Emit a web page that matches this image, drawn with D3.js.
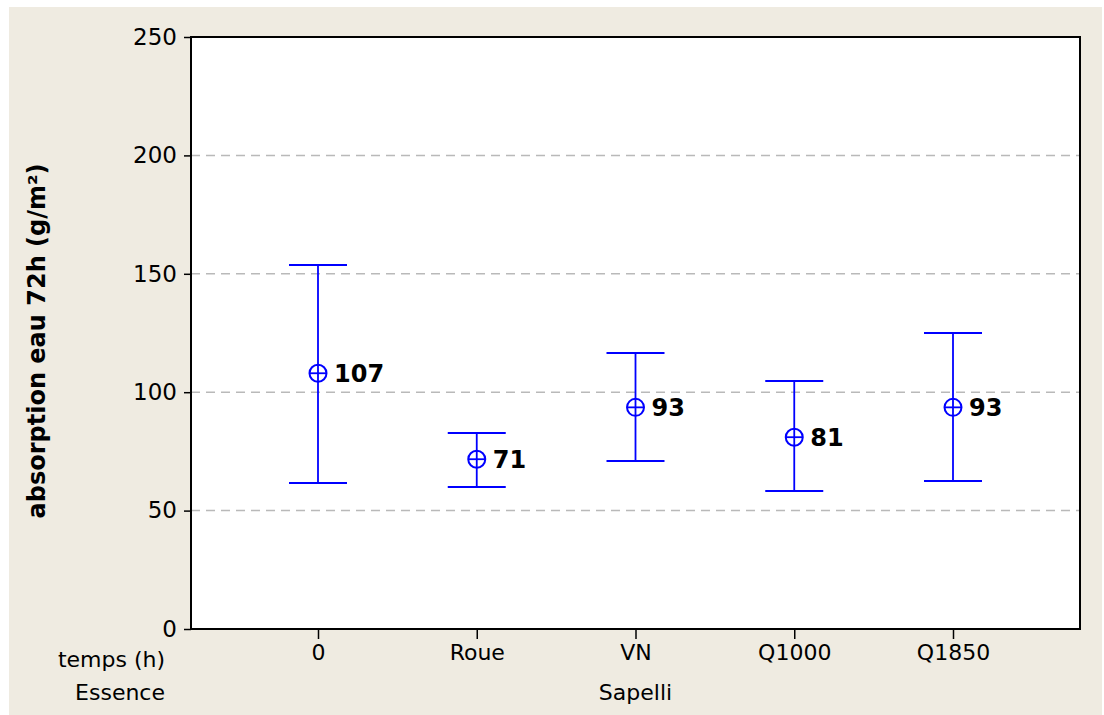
<!DOCTYPE html>
<html>
<head>
<meta charset="utf-8">
<script src="https://cdn.jsdelivr.net/npm/d3@7"></script>
<style>
  body { margin: 0; background: #fff; }
  text { font-family: "DejaVu Sans", Verdana, sans-serif; }
</style>
</head>
<body>
<script>
// data
let categories = ["0", "Roue", "VN", "Q1000", "Q1850"];
let means      = [108, 71.7, 93.6, 81, 93.6];
let meanLabels = ["107", "71", "93", "81", "93"];
let upper      = [153.7, 82.8, 116.6, 104.7, 125];
let lower      = [61.7, 60, 70.9, 58.3, 62.5];
let yTicks     = [0, 50, 100, 150, 200, 250];
let gridValues = [50, 100, 150, 200];

let W = 1104, H = 715;
let plotLeft = 191, plotRight = 1080, plotTop = 37, plotBottom = 629;

let svg = d3.select("body").append("svg")
            .attr("width", W)
            .attr("height", H);

// beige page
svg.append("rect")
   .attr("x", 9).attr("y", 7)
   .attr("width", 1093).attr("height", H - 7)
   .style("fill", "#efebe1");

let x = d3.scalePoint().domain(categories).range([plotLeft, plotRight]).padding(0.8);
let y = d3.scaleLinear().domain([0, 250]).range([plotBottom, plotTop]);

svg.append("rect")
   .attr("x", plotLeft).attr("y", plotTop)
   .attr("width", plotRight - plotLeft).attr("height", plotBottom - plotTop)
   .style("fill", "white");

// grid
svg.selectAll(".grid")
   .data(gridValues)
   .enter()
   .append("line")
   .attr("x1", plotLeft).attr("x2", plotRight)
   .attr("y1", d => y(d)).attr("y2", d => y(d))
   .style("stroke", "#b9b9b9")
   .style("stroke-width", 1.5)
   .style("stroke-dasharray", "9,6");

// y axis
let yAxis = svg.append("g")
               .attr("transform", `translate(${plotLeft},0)`)
               .call(d3.axisLeft(y).tickValues(yTicks).tickSize(7).tickPadding(7));
yAxis.select(".domain").remove();
yAxis.selectAll("line").style("stroke", "black").style("stroke-width", 1.5);
yAxis.selectAll("text").style("font-size", "23px").style("font-family", "DejaVu Sans").attr("fill", "black");

// x axis
let xAxis = svg.append("g")
               .attr("transform", `translate(0,${plotBottom})`)
               .call(d3.axisBottom(x).tickSize(10).tickPadding(5));
xAxis.select(".domain").remove();
xAxis.selectAll("line").style("stroke", "black").style("stroke-width", 1.5);
xAxis.selectAll("text").style("font-size", "22px").style("font-family", "DejaVu Sans").attr("fill", "black");

// frame
svg.append("rect")
   .attr("x", plotLeft).attr("y", plotTop)
   .attr("width", plotRight - plotLeft).attr("height", plotBottom - plotTop)
   .style("fill", "none")
   .style("stroke", "black")
   .style("stroke-width", 2);

svg.append("text").attr("x", 165).attr("y", 667).attr("text-anchor", "end")
   .style("font-size", "22px").text("temps (h)");
svg.append("text").attr("x", 165).attr("y", 700).attr("text-anchor", "end")
   .style("font-size", "22px").text("Essence");
svg.append("text").attr("x", (plotLeft + plotRight) / 2).attr("y", 700).attr("text-anchor", "middle")
   .style("font-size", "22px").text("Sapelli");

svg.append("text")
   .attr("transform", "translate(45,341) rotate(-90)")
   .attr("text-anchor", "middle")
   .style("font-size", "24px")
   .style("font-weight", "bold")
   .text("absorption eau 72h (g/m²)");

// error bars
let blue = "#0000ff";
let groups = svg.selectAll(".bar")
                .data(categories)
                .enter()
                .append("g");

groups.append("line")
      .attr("x1", d => x(d)).attr("x2", d => x(d))
      .attr("y1", (d, i) => y(upper[i])).attr("y2", (d, i) => y(lower[i]))
      .style("stroke", blue).style("stroke-width", 1.8);
groups.append("line")
      .attr("x1", d => x(d) - 29).attr("x2", d => x(d) + 29)
      .attr("y1", (d, i) => y(upper[i])).attr("y2", (d, i) => y(upper[i]))
      .style("stroke", blue).style("stroke-width", 2);
groups.append("line")
      .attr("x1", d => x(d) - 29).attr("x2", d => x(d) + 29)
      .attr("y1", (d, i) => y(lower[i])).attr("y2", (d, i) => y(lower[i]))
      .style("stroke", blue).style("stroke-width", 2);
groups.append("circle")
      .attr("cx", d => x(d)).attr("cy", (d, i) => y(means[i]))
      .attr("r", 8.5)
      .style("fill", "none").style("stroke", blue).style("stroke-width", 2);
groups.append("line")
      .attr("x1", d => x(d) - 8.5).attr("x2", d => x(d) + 8.5)
      .attr("y1", (d, i) => y(means[i])).attr("y2", (d, i) => y(means[i]))
      .style("stroke", blue).style("stroke-width", 1.8);
groups.append("text")
      .attr("x", d => x(d) + 16)
      .attr("y", (d, i) => y(means[i]) + 9)
      .style("font-size", "24px")
      .style("font-weight", "bold")
      .text((d, i) => meanLabels[i]);
</script>
</body>
</html>
